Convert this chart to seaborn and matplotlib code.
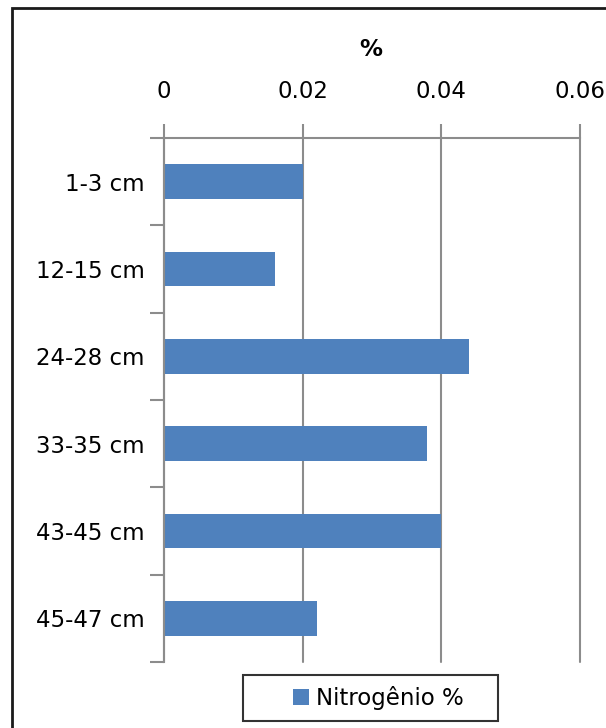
import matplotlib
matplotlib.use("Agg")
import matplotlib.pyplot as plt
import numpy as np
import pandas as pd
import seaborn as sns
from matplotlib.patches import Rectangle, Patch
from matplotlib.legend_handler import HandlerPatch

# Nitrogen content by soil depth
depths = ["1-3 cm", "12-15 cm", "24-28 cm", "33-35 cm", "43-45 cm", "45-47 cm"]
nitrogen = [0.020, 0.016, 0.044, 0.038, 0.040, 0.022]
xticks = [0, 0.02, 0.04, 0.06]
xticklabels = ["0", "0.02", "0.04", "0.06"]
series_label = "Nitrogênio %"

BAR = "#4F81BD"
AXIS = "#8C8C8C"
FS = 16.5

sns.set_theme(style="white")
plt.rcParams["font.family"] = ["DejaVu Sans"]

W, H = 606, 728
fig = plt.figure(figsize=(W / 100, H / 100), dpi=100)
ax = fig.add_axes([164 / W, 1 - 662 / H, (580 - 164) / W, (662 - 138) / H])

df = pd.DataFrame({"depth": depths, "N": nitrogen})
sns.barplot(data=df, x="N", y="depth", color=BAR, saturation=1, width=0.4,
            linewidth=0, ax=ax)

ax.set_xlim(0, 0.06)
ax.set_ylim(5.5, -0.5)
ax.set_xlabel("")
ax.set_ylabel("")

# value axis on top with vertical gridlines
ax.xaxis.tick_top()
ax.set_xticks(xticks)
ax.set_xticklabels(xticklabels, fontsize=FS, color="black")
ax.tick_params(axis="x", which="major", top=True, bottom=False, length=10,
               width=1.5, color=AXIS, pad=15, direction="out")
ax.set_axisbelow(True)
ax.xaxis.grid(True, color=AXIS, linewidth=1.5)
ax.yaxis.grid(False)
for gl in ax.get_xgridlines():
    gl.set_clip_on(False)

# category axis: tick marks between categories, labels centred on them
ax.set_yticks(np.arange(-0.5, 6.0, 1.0))
ax.set_yticklabels([])
ax.set_yticks(np.arange(len(depths)), minor=True)
ax.set_yticklabels(depths, minor=True, fontsize=FS, color="black")
ax.tick_params(axis="y", which="major", left=True, length=10, width=1.5,
               color=AXIS, direction="out")
ax.tick_params(axis="y", which="minor", left=True, length=0, pad=14)

for side in ("right", "bottom"):
    ax.spines[side].set_visible(False)
for side in ("top", "left"):
    ax.spines[side].set_color(AXIS)
    ax.spines[side].set_linewidth(1.5)

fig.text(371 / W, 1 - 50 / H, "%", ha="center", va="center",
         fontsize=FS, fontweight="bold", color="black")


def square_at_right(legend, orig_handle, xdescent, ydescent, width, height, fontsize):
    s = 0.7 * fontsize
    return Rectangle((-xdescent + width - s, -ydescent + (height - s) / 2), s, s)


leg = fig.legend(handles=[Patch(facecolor=BAR, edgecolor="none", label=series_label)],
                 loc="center", bbox_to_anchor=(243 / W, 1 - 723 / H, 255 / W, 50 / H),
                 mode="expand", borderaxespad=0, frameon=True, fancybox=False,
                 edgecolor="black", fontsize=FS, labelcolor="black",
                 handlelength=2.4, handleheight=0.7,
                 handletextpad=0.3, borderpad=0.5,
                 handler_map={Patch: HandlerPatch(patch_func=square_at_right)})
leg.get_frame().set_linewidth(1.5)

# chart border
fig.patches.append(Rectangle((12 / W, -0.1), 1.2, 1 - 8 / H + 0.1,
                             transform=fig.transFigure, fill=False,
                             edgecolor="#1a1a1a", linewidth=2))

fig.savefig("out.png", dpi=100, facecolor="white")
